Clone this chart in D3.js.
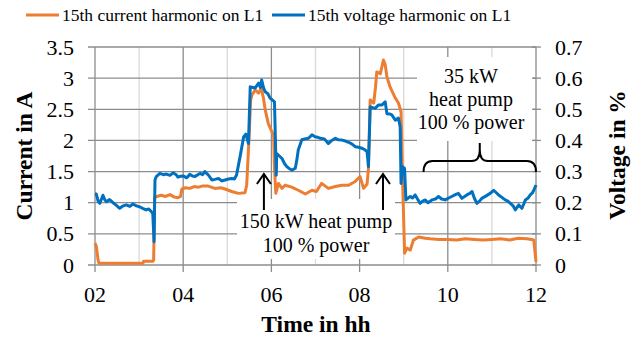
<!DOCTYPE html>
<html>
<head>
<meta charset="utf-8">
<script src="https://cdn.jsdelivr.net/npm/d3@7"></script>
<style>
  body { margin:0; background:#fff; }
</style>
</head>
<body>
<svg id="viewer"></svg>
<script>
// 15th current harmonic on L1, [hour, A]
var currentL1 = [
  [2.00,0.35],[2.03,0.30],[2.07,0.08],[2.09,0.03],[2.5,0.03],[3.0,0.03],[3.09,0.03],[3.10,0.06],
  [3.31,0.06],[3.33,0.08],[3.35,1.08],[3.40,1.10],[3.50,1.12],[3.60,1.10],[3.70,1.13],[3.80,1.09],
  [3.88,1.08],[3.94,1.10],[3.97,1.22],[4.05,1.24],[4.15,1.23],[4.25,1.26],[4.35,1.25],[4.45,1.27],
  [4.55,1.27],[4.72,1.23],[4.85,1.24],[4.95,1.22],[5.10,1.18],[5.25,1.15],[5.40,1.16],[5.44,1.28],
  [5.49,2.00],[5.53,2.65],[5.56,2.73],[5.63,2.81],[5.71,2.76],[5.77,2.84],[5.82,2.68],[5.86,2.49],
  [5.93,2.27],[6.01,2.14],[6.05,2.09],[6.07,1.55],[6.10,1.15],[6.16,1.31],[6.24,1.23],[6.31,1.28],
  [6.46,1.25],[6.61,1.20],[6.77,1.14],[6.92,1.20],[7.02,1.18],[7.14,1.31],[7.29,1.23],[7.45,1.26],
  [7.60,1.28],[7.75,1.28],[7.90,1.34],[8.01,1.42],[8.09,1.23],[8.17,1.30],[8.20,1.55],[8.24,2.65],
  [8.32,2.60],[8.36,2.85],[8.39,3.10],[8.47,3.07],[8.54,3.29],[8.58,3.22],[8.62,3.02],[8.69,2.86],
  [8.81,2.68],[8.88,2.60],[8.94,2.46],[8.97,1.48],[9.02,0.19],[9.07,0.27],[9.15,0.24],[9.22,0.40],
  [9.34,0.45],[9.49,0.43],[9.6,0.42],[9.8,0.41],[10.0,0.41],[10.2,0.40],[10.4,0.42],[10.6,0.41],
  [10.8,0.40],[11.0,0.41],[11.2,0.42],[11.4,0.40],[11.6,0.43],[11.8,0.42],[11.95,0.40],[12.0,0.05]
];

// 15th voltage harmonic on L1, [hour, %]
var voltageL1 = [
  [2.00,0.228],[2.03,0.228],[2.07,0.205],[2.11,0.198],[2.18,0.224],[2.22,0.21],[2.26,0.203],[2.33,0.21],
  [2.41,0.20],[2.48,0.192],[2.56,0.182],[2.64,0.19],[2.71,0.193],[2.79,0.188],[2.86,0.196],[2.94,0.19],
  [3.01,0.187],[3.08,0.182],[3.16,0.177],[3.22,0.18],[3.28,0.171],[3.31,0.165],[3.34,0.075],[3.36,0.273],
  [3.39,0.284],[3.47,0.294],[3.55,0.29],[3.62,0.292],[3.70,0.288],[3.77,0.296],[3.84,0.29],[3.88,0.282],
  [3.94,0.285],[4.0,0.286],[4.08,0.28],[4.15,0.291],[4.21,0.286],[4.27,0.284],[4.33,0.29],[4.38,0.294],
  [4.44,0.29],[4.49,0.30],[4.57,0.289],[4.65,0.273],[4.72,0.275],[4.80,0.278],[4.88,0.27],[4.95,0.273],
  [5.03,0.276],[5.10,0.278],[5.16,0.276],[5.21,0.289],[5.29,0.348],[5.37,0.411],[5.42,0.42],[5.48,0.39],
  [5.52,0.572],[5.58,0.57],[5.63,0.568],[5.71,0.584],[5.75,0.57],[5.78,0.594],[5.82,0.57],[5.86,0.556],
  [5.92,0.55],[5.97,0.536],[6.02,0.53],[6.07,0.524],[6.11,0.288],[6.12,0.358],[6.18,0.35],[6.24,0.342],
  [6.30,0.325],[6.35,0.316],[6.40,0.31],[6.46,0.305],[6.54,0.31],[6.58,0.34],[6.61,0.37],[6.69,0.402],
  [6.76,0.405],[6.84,0.407],[6.92,0.418],[6.99,0.412],[7.05,0.41],[7.11,0.407],[7.20,0.405],[7.29,0.39],
  [7.37,0.40],[7.45,0.407],[7.52,0.402],[7.60,0.401],[7.68,0.398],[7.75,0.394],[7.83,0.388],[7.90,0.38],
  [7.98,0.378],[8.05,0.375],[8.12,0.37],[8.17,0.364],[8.20,0.316],[8.24,0.508],[8.30,0.505],[8.35,0.503],
  [8.43,0.514],[8.51,0.514],[8.58,0.524],[8.62,0.486],[8.68,0.485],[8.73,0.482],[8.81,0.465],[8.88,0.472],
  [8.92,0.444],[8.94,0.262],[8.97,0.316],[9.02,0.31],[9.05,0.209],[9.10,0.215],[9.15,0.22],[9.20,0.215],
  [9.26,0.225],[9.32,0.21],[9.37,0.198],[9.43,0.205],[9.49,0.209],[9.55,0.2],[9.64,0.209],[9.72,0.212],
  [9.79,0.22],[9.86,0.212],[9.94,0.209],[10.02,0.215],[10.09,0.22],[10.16,0.225],[10.24,0.23],[10.32,0.214],
  [10.43,0.225],[10.50,0.23],[10.55,0.236],[10.60,0.215],[10.66,0.198],[10.72,0.205],[10.77,0.214],[10.87,0.222],
  [10.96,0.23],[11.04,0.24],[11.10,0.232],[11.15,0.225],[11.22,0.218],[11.30,0.209],[11.36,0.205],[11.42,0.198],
  [11.48,0.19],[11.53,0.177],[11.57,0.185],[11.61,0.193],[11.68,0.182],[11.72,0.195],[11.76,0.209],[11.82,0.215],
  [11.87,0.225],[11.92,0.232],[11.95,0.24],[12.0,0.257]
];

var hourTicks = [2,4,6,8,10,12];
var minorHours = [3,5,7,9,11];
var currentTicks = [0,0.5,1,1.5,2,2.5,3,3.5];
var voltageTicks = [0,0.1,0.2,0.3,0.4,0.5,0.6,0.7];
var seriesNames = ['15th current harmonic on L1','15th voltage harmonic on L1'];
var seriesColors = ['#ED7D31','#0070C0'];

var W = 641, H = 338;
var SERIF = '"Liberation Serif"';
var viewer = d3.select('#viewer').attr('width',W).attr('height',H);

var x = d3.scaleLinear().domain([2,12]).range([95,536]);
var yL = d3.scaleLinear().domain([0,3.5]).range([265,47]);
var yR = d3.scaleLinear().domain([0,0.7]).range([265,47]);

// gridlines
var grid = viewer.append('g');
grid.selectAll('.minor').data(minorHours).enter().append('line')
  .attr('x1',d=>x(d)).attr('x2',d=>x(d)).attr('y1',yL(3.5)).attr('y2',yL(0))
  .style('stroke','#d9d9d9').style('stroke-width',1.3);
grid.selectAll('.major').data(hourTicks).enter().append('line')
  .attr('x1',d=>x(d)).attr('x2',d=>x(d)).attr('y1',yL(3.5)).attr('y2',yL(0)+7)
  .style('stroke','#8c8c8c').style('stroke-width',1.3);
grid.selectAll('.hline').data(currentTicks).enter().append('line')
  .attr('x1',x(2)-7).attr('x2',x(12)).attr('y1',d=>yL(d)).attr('y2',d=>yL(d))
  .style('stroke','#8c8c8c').style('stroke-width',1.3);

// series
var line = function(scale){
  return d3.line().x(d=>x(d[0])).y(d=>scale(d[1]));
};
viewer.append('path').datum(currentL1)
  .attr('d',line(yL))
  .style('fill','none').style('stroke',seriesColors[0]).style('stroke-width',3)
  .style('stroke-linejoin','round');
viewer.append('path').datum(voltageL1)
  .attr('d',line(yR))
  .style('fill','none').style('stroke',seriesColors[1]).style('stroke-width',3)
  .style('stroke-linejoin','round');

// annotation boxes (white, cover the grid)
viewer.append('rect').attr('x',237).attr('y',199).attr('width',158).attr('height',60).style('fill','#fff');
viewer.append('rect').attr('x',417).attr('y',57).attr('width',116).attr('height',84).style('fill','#fff');

// right axis ticks on top
viewer.selectAll('.rtick').data(voltageTicks).enter().append('line')
  .attr('x1',x(12)-4).attr('x2',x(12)+5).attr('y1',d=>yR(d)).attr('y2',d=>yR(d))
  .style('stroke','#8c8c8c').style('stroke-width',1.3);

// tick labels: set at 20px and scaled up
var fmt = d3.format('02d');
var k = 1.1;
viewer.selectAll('.xlab').data(hourTicks).enter().append('text')
  .attr('transform',d=>'translate('+x(d)+',302) scale('+k+')').attr('text-anchor','middle')
  .style('font-family',SERIF).style('font-size','20px').text(d=>fmt(d));
viewer.selectAll('.ylab').data(currentTicks).enter().append('text')
  .attr('transform',d=>'translate(74,'+(yL(d)+7.5)+') scale('+k+')').attr('text-anchor','end')
  .style('font-family',SERIF).style('font-size','20px').text(d=>String(d));
viewer.selectAll('.rlab').data(voltageTicks).enter().append('text')
  .attr('transform',d=>'translate(555,'+(yR(d)+7.5)+') scale('+k+')')
  .style('font-family',SERIF).style('font-size','20px').text(d=>String(d));

// axis titles
viewer.append('text').attr('transform','translate(32,156) rotate(-90)')
  .attr('text-anchor','middle').style('font-family',SERIF)
  .style('font-size','23.5px').style('font-weight','bold')
  .text('Current in A');
viewer.append('text').attr('transform','translate(625,155) rotate(-90)')
  .attr('text-anchor','middle').style('font-family',SERIF)
  .style('font-size','23.5px').style('font-weight','bold')
  .text('Voltage in %');
viewer.append('text').attr('x',316).attr('y',332)
  .attr('text-anchor','middle').style('font-family',SERIF)
  .style('font-size','23.5px').style('font-weight','bold')
  .text('Time in hh');

// annotations
var note = viewer.append('g').style('font-family',SERIF)
  .style('font-size','20px').attr('text-anchor','middle');
note.append('text').attr('x',316).attr('y',228).text('150 kW heat pump');
note.append('text').attr('x',316).attr('y',252).text('100 % power');
note.append('text').attr('x',471).attr('y',83).text('35 kW');
note.append('text').attr('x',471).attr('y',106).text('heat pump');
note.append('text').attr('x',471).attr('y',129).text('100 % power');

// arrows at the two 150 kW runs
[5.83,8.53].forEach(function(t){
  var ax = x(t);
  viewer.append('line').attr('x1',ax).attr('x2',ax).attr('y1',210).attr('y2',174)
    .style('stroke','#000').style('stroke-width',2);
  viewer.append('path').attr('d','M'+(ax-7)+',184 L'+ax+',174 L'+(ax+7)+',184')
    .style('fill','none').style('stroke','#000').style('stroke-width',2);
});

// curly brace over the 35 kW run
var bx0 = x(9.45), bx1 = x(12), bm = (bx0+bx1)/2;
viewer.append('path')
  .attr('d','M'+bx0+',172 Q'+bx0+',161 '+(bx0+9)+',161 L'+(bm-8)+',161 Q'+bm+',161 '+bm+',150'
    +' L'+bm+',143 M'+bm+',150 Q'+bm+',161 '+(bm+8)+',161 L'+(bx1-9)+',161 Q'+bx1+',161 '+bx1+',172')
  .style('fill','none').style('stroke','#000').style('stroke-width',2);

// legend
var legend = viewer.selectAll('.legend').data(seriesNames).enter().append('g')
  .attr('transform',(d,i)=>'translate('+[26,272][i]+',0)');
legend.append('line').attr('x1',0).attr('x2',33).attr('y1',15).attr('y2',15)
  .style('stroke',(d,i)=>seriesColors[i]).style('stroke-width',3);
legend.append('text').attr('x',36).attr('y',21).style('font-family',SERIF)
  .style('font-size','17.5px').text(d=>d);
</script>
</body>
</html>
